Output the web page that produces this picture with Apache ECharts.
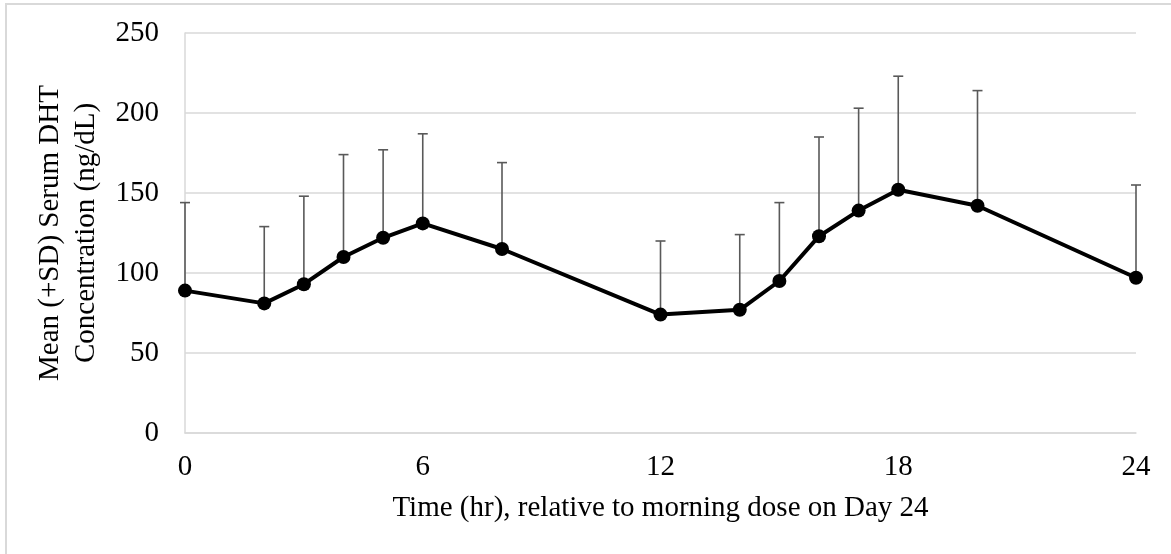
<!DOCTYPE html>
<html>
<head>
<meta charset="utf-8">
<title>Serum DHT Concentration</title>
<script src="https://cdn.jsdelivr.net/npm/echarts@6/dist/echarts.min.js"></script>
<style>
  html, body { margin: 0; padding: 0; background: #ffffff; }
  #chart { width: 1171px; height: 554px; }
</style>
</head>
<body>
<div id="chart"></div>
<script>
// Sampling times (hr) relative to the morning dose on Day 24
const times = [0, 2, 3, 4, 5, 6, 8, 12, 14, 15, 16, 17, 18, 20, 24];
// Mean serum DHT concentration (ng/dL)
const means = [89, 81, 93, 110, 122, 131, 115, 74, 77, 95, 123, 139, 152, 142, 97];
// Standard deviation (ng/dL), drawn as upper error bars
const sds = [55, 48, 55, 64, 55, 56, 54, 46, 47, 49, 62, 64, 71, 72, 58];
// Axis ticks
const xTicks = [0, 6, 12, 18, 24];
const yTicks = [0, 50, 100, 150, 200, 250];

const FONT = '"Liberation Serif", "Times New Roman", serif';
const GRID_COLOR = '#d9d9d9';

const lineData = times.map((t, i) => [t, means[i]]);
const errData = times.map((t, i) => [t, means[i], means[i] + sds[i]]);

const chart = echarts.init(document.getElementById('chart'), null, { renderer: 'canvas' });

chart.setOption({
  backgroundColor: '#ffffff',
  animation: false,
  graphic: [{
    type: 'rect',
    shape: { x: 6, y: 4, width: 1300, height: 700 },
    style: { fill: 'none', stroke: GRID_COLOR, lineWidth: 2 },
    silent: true,
    z: -1
  }],
  grid: { left: 185, right: 35, top: 33, bottom: 121 },
  xAxis: {
    type: 'value',
    min: xTicks[0],
    max: xTicks[xTicks.length - 1],
    interval: xTicks[1] - xTicks[0],
    name: 'Time (hr), relative to morning dose on Day 24',
    nameLocation: 'middle',
    nameGap: 61,
    nameTextStyle: { fontFamily: FONT, fontSize: 29, color: '#000' },
    axisLine: { show: true, lineStyle: { color: GRID_COLOR, width: 1.5 } },
    axisTick: { show: false },
    splitLine: { show: false },
    axisLabel: { fontFamily: FONT, fontSize: 29, color: '#000', margin: 20 }
  },
  yAxis: {
    type: 'value',
    min: yTicks[0],
    max: yTicks[yTicks.length - 1],
    interval: yTicks[1] - yTicks[0],
    name: 'Mean (+SD) Serum DHT\nConcentration (ng/dL)',
    nameLocation: 'middle',
    nameRotate: 90,
    nameGap: 75,
    nameTextStyle: { fontFamily: FONT, fontSize: 29, color: '#000', lineHeight: 36, align: 'center' },
    axisLine: { show: true, lineStyle: { color: GRID_COLOR, width: 1.5 } },
    axisTick: { show: false },
    splitLine: { show: true, lineStyle: { color: GRID_COLOR, width: 1.5 } },
    axisLabel: { fontFamily: FONT, fontSize: 29, color: '#000', margin: 26 }
  },
  series: [
    {
      name: 'SD',
      type: 'custom',
      data: errData,
      z: 2,
      clip: false,
      encode: { x: 0, y: [1, 2] },
      renderItem: function (params, api) {
        const x = api.value(0);
        const lo = api.coord([x, api.value(1)]);
        const hi = api.coord([x, api.value(2)]);
        const hw = 5;
        const style = { stroke: '#595959', lineWidth: 1.6 };
        return {
          type: 'group',
          children: [
            { type: 'line', shape: { x1: lo[0], y1: lo[1], x2: hi[0], y2: hi[1] }, style: style },
            { type: 'line', shape: { x1: hi[0] - hw, y1: hi[1], x2: hi[0] + hw, y2: hi[1] }, style: style }
          ]
        };
      }
    },
    {
      name: 'Mean',
      type: 'line',
      data: lineData,
      z: 3,
      symbol: 'circle',
      symbolSize: 14,
      itemStyle: { color: '#000' },
      lineStyle: { color: '#000', width: 4 }
    }
  ]
});
</script>
</body>
</html>
